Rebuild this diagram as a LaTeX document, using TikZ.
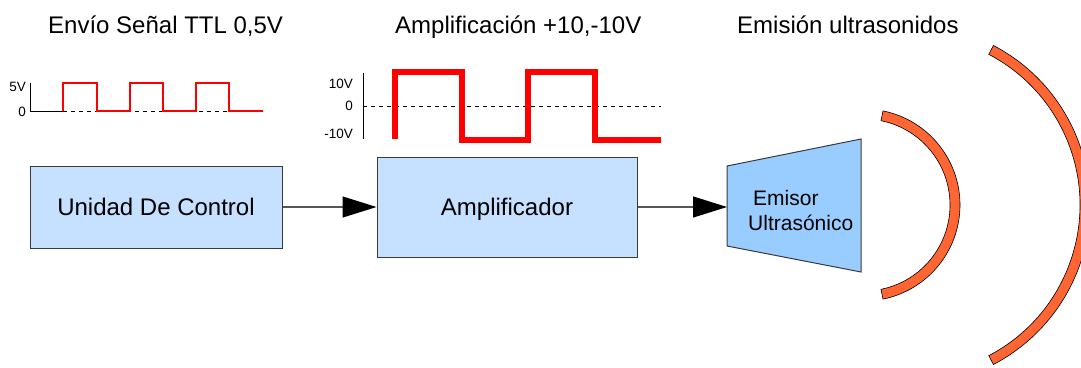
\documentclass[tikz,border=0pt]{standalone}
\usepackage{fontspec}
\setmainfont{Liberation Sans}
\usetikzlibrary{arrows.meta}
\definecolor{boxblue}{HTML}{C6E0FF}
\definecolor{emblue}{HTML}{99CCFF}
\definecolor{wavec}{HTML}{FF6633}
\definecolor{edgec}{HTML}{3A3A3A}
\definecolor{linec}{HTML}{555555}
\begin{document}
\begin{tikzpicture}[x=1pt,y=-1pt,
  block/.style={draw=edgec, line width=1pt, fill=boxblue, font=\fontsize{24}{28}\selectfont, text height=17pt, text depth=0pt, inner sep=0pt},
  titletext/.style={font=\fontsize{24}{28}\selectfont, anchor=base west, inner sep=0pt},
  emtext/.style={font=\fontsize{21}{25}\selectfont, anchor=base west, inner sep=0pt},
  axlab/.style={font=\fontsize{13.5}{16}\selectfont, anchor=east, inner sep=0pt},
  conn/.style={draw=linec, line width=1.2pt, -{Triangle[length=34pt,width=21pt,color=black]}},
  axisline/.style={draw=black, line width=0.9pt},
  zeroline/.style={draw=black, line width=0.9pt, dash pattern=on 4pt off 4pt},
  wavearc/.style={draw=black, line width=0.6pt, fill=wavec}
]
\useasboundingbox (0,0) rectangle (1081,367);

% titles
\node[titletext] (t1) at (48,33) {Envío Señal TTL 0,5V};
\node[titletext] (t2) at (395,33) {Amplificación +10,-10V};
\node[titletext] (t3) at (737,33) {Emisión ultrasonidos};

% TTL waveform
\draw[axisline] (30,83) -- (30,111) -- (63,111);
\draw[zeroline] (63,111) -- (263,111);
\draw[red, line width=1.2pt] (63,111) -- (63,83) -- (97,83) -- (97,111) -- (130,111) -- (130,83) -- (163,83) -- (163,111) -- (196,111) -- (196,83) -- (229,83) -- (229,111) -- (263,111);
\node[axlab] (l5v) at (26,87) {5V};
\node[axlab] (l0a) at (26,111.5) {0};

% amplified waveform
\draw[axisline] (363,73) -- (363,139);
\draw[zeroline] (363,106) -- (661,106);
\draw[red, line width=5.3pt] (395,139) -- (395,72) -- (462,72) -- (462,140) -- (528,140) -- (528,72) -- (595,72) -- (595,140) -- (661,140);
\node[axlab] (l10) at (353,84) {10V};
\node[axlab] (l0b) at (353,106) {0};
\node[axlab] (lm10) at (353,134) {-10V};

% blocks
\node[block, minimum width=252pt, minimum height=82pt] (ctrl) at (156,207) {Unidad De Control};
\node[block, minimum width=260pt, minimum height=100pt] (amp) at (507,207) {Amplificador};

% emitter
\filldraw[draw=edgec, fill=emblue, line width=1pt] (727,166) -- (861,139) -- (861,272) -- (727,246) -- cycle;
\coordinate (emin) at (727,207);
\node[emtext] (em1) at (753,205) {Emisor};
\node[emtext] (em2) at (748,230) {Ultrasónico};

% connectors
\draw[conn] (ctrl) -- (amp);
\draw[conn] (amp) -- (emin);

% waves
\filldraw[wavearc] (864,205) ++(-78.6:96) arc[start angle=-78.6, end angle=78.6, radius=96] -- ++(258.6:10) arc[start angle=78.6, end angle=-78.6, radius=86] -- cycle;
\filldraw[wavearc] (910,205) ++(-62.4:180) arc[start angle=-62.4, end angle=62.4, radius=180] -- ++(242.4:10) arc[start angle=62.4, end angle=-62.4, radius=170] -- cycle;
\end{tikzpicture}
\end{document}
